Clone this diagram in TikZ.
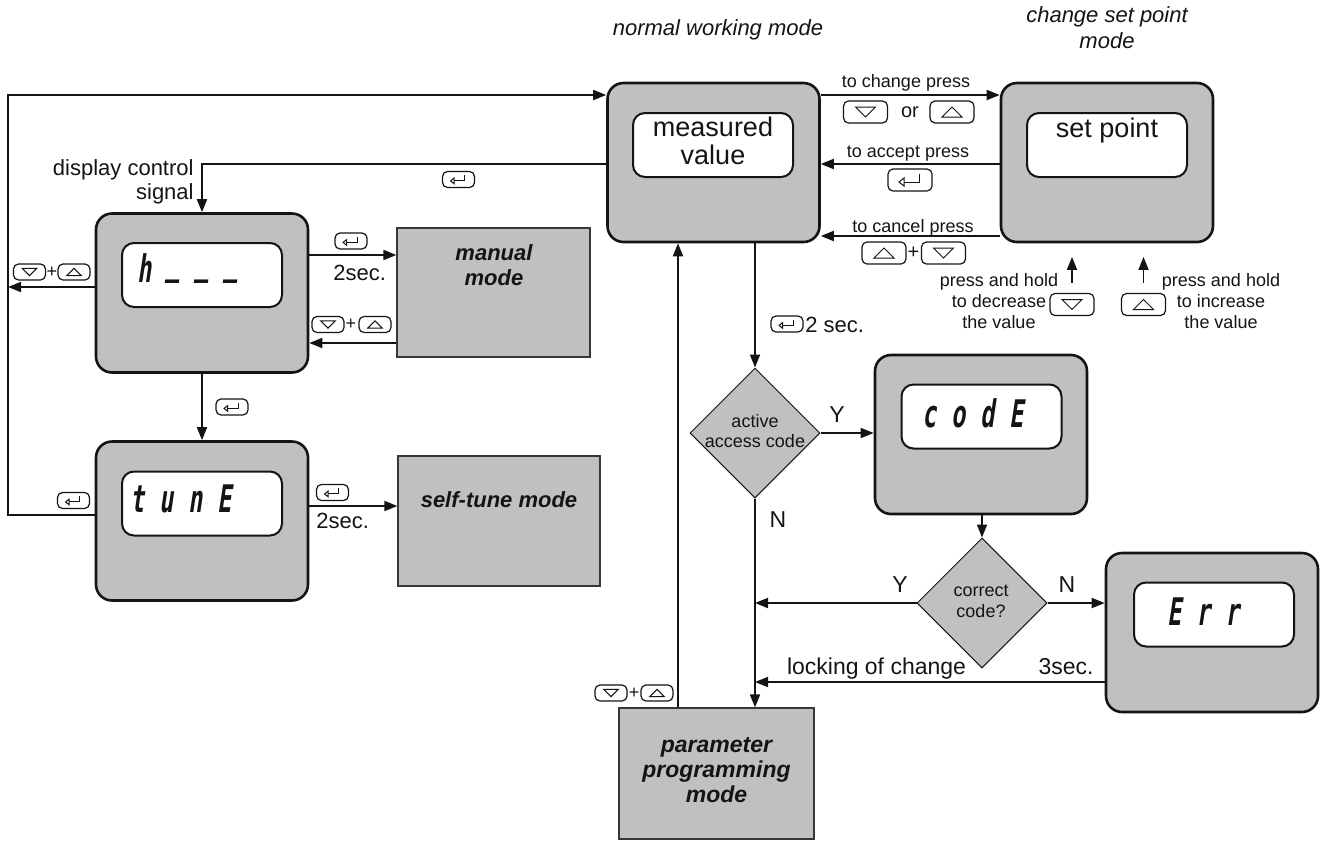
\documentclass[tikz,border=0pt]{standalone}
\usepackage{fontspec}
\setmainfont{Liberation Sans}
\newfontfamily\segfont[FakeSlant=0.15,FakeStretch=0.62]{DejaVu Sans Mono}
\usetikzlibrary{arrows.meta,shapes.geometric}
\definecolor{panel}{RGB}{192,192,192}
\definecolor{ink}{RGB}{20,20,20}
\newcommand\fsz[2]{\fontsize{#1}{#2}\selectfont}
\newcommand\segsp{\hspace{7.5pt}}
\newcommand\segdash{\raisebox{0.2em}{\_}}
\tikzset{
  txt/.style={inner sep=0pt, text=ink},
  dev/.style={draw=ink, line width=1.3pt, fill=panel, rounded corners=8pt, inner sep=0pt, minimum width=106pt, minimum height=79.5pt},
  screen/.style={draw=ink, line width=1pt, fill=white, rounded corners=6pt, inner sep=0pt, minimum width=80pt, minimum height=32pt},
  seg/.style={inner sep=0pt, text=ink, font=\segfont\bfseries\fsz{19pt}{19pt}},
  modebox/.style={draw=ink!85, line width=0.6pt, fill=panel, inner sep=0pt},
  decision/.style={diamond, draw=ink, line width=0.5pt, fill=panel, inner sep=0pt, minimum width=65pt, minimum height=65pt},
  flow/.style={draw=ink, line width=0.9pt, -{Triangle[length=6.5pt,width=5pt]}},
  keybase/.style={draw=ink, line width=0.6pt, rounded corners=2.5pt, fill=white, inner sep=0pt},
  keyL/.style={keybase, minimum width=22pt, minimum height=11pt},
  keyS/.style={keybase, minimum width=16pt, minimum height=8pt},
  glyph/.style={sharp corners, line width=0.5pt, line join=miter},
  dn/.style={path picture={\draw[glyph]
      ([shift={(-#1*5pt,#1*2.5pt)}]path picture bounding box.center) --
      ([shift={(#1*5pt,#1*2.5pt)}]path picture bounding box.center) --
      ([shift={(0pt,-#1*2.5pt)}]path picture bounding box.center) -- cycle;}},
  upk/.style={path picture={\draw[glyph]
      ([shift={(-#1*5pt,-#1*2.5pt)}]path picture bounding box.center) --
      ([shift={(#1*5pt,-#1*2.5pt)}]path picture bounding box.center) --
      ([shift={(0pt,#1*2.5pt)}]path picture bounding box.center) -- cycle;}},
  ent/.style={path picture={
      \draw[glyph]
      ([shift={(#1*4.5pt,#1*3pt)}]path picture bounding box.center) --
      ([shift={(#1*4.5pt,-#1*1pt)}]path picture bounding box.center) --
      ([shift={(-#1*3pt,-#1*1pt)}]path picture bounding box.center);
      \draw[glyph]
      ([shift={(-#1*3pt,#1*1pt)}]path picture bounding box.center) --
      ([shift={(-#1*5.5pt,-#1*1pt)}]path picture bounding box.center) --
      ([shift={(-#1*3pt,-#1*3pt)}]path picture bounding box.center) -- cycle;}},
}
\begin{document}
\begin{tikzpicture}[x=0.5pt, y=-0.5pt]
\useasboundingbox (0,0) rectangle (1322,842);

% titles
\node[txt, font=\itshape\fsz{11pt}{12.5pt}] (tnorm) at (718,30) {normal working mode};
\node[txt, font=\itshape\fsz{11pt}{13pt}, align=center] (tchg) at (1107,28) {change set point\\mode};

% devices
\node[dev] (meas) at (713.5,162.5) {};
\node[screen] (measS) at (713,145) {};
\node[txt, font=\fsz{13.5pt}{14pt}, align=center] (measT) at (713,141) {measured\\value};

\node[dev] (setp) at (1107,162.5) {};
\node[screen] (setpS) at (1107,145) {};
\node[txt, font=\fsz{13.5pt}{14pt}, anchor=base] (setpT) at (1107,137) {set point};

\node[dev] (hbox) at (202,293) {};
\node[screen] (hboxS) at (202,275) {};
\node[seg, anchor=base west] (hboxT) at (137,282) {h\segsp\segdash\segsp\segdash\segsp\segdash};

\node[dev] (tune) at (202,521) {};
\node[screen] (tuneS) at (202,503.5) {};
\node[seg, anchor=base west] (tuneT) at (130,512) {t\segsp u\segsp n\segsp E};

\node[dev] (code) at (981,434.5) {};
\node[screen] (codeS) at (981.5,416.5) {};
\node[seg, anchor=base west] (codeT) at (922,427) {c\segsp o\segsp d\segsp E};

\node[dev] (err) at (1212,632.5) {};
\node[screen] (errS) at (1214,614.5) {};
\node[seg, anchor=base west] (errT) at (1167,625) {E\segsp r\segsp r};

% mode boxes
\node[modebox, minimum width=96.5pt, minimum height=64.5pt] (manual) at (493.5,292.5) {};
\node[txt, font=\bfseries\itshape\fsz{11pt}{12.5pt}, align=center] (manualT) at (494,265.5) {manual\\mode};
\node[modebox, minimum width=101pt, minimum height=65pt] (self) at (499,521) {};
\node[txt, font=\bfseries\itshape\fsz{11pt}{12.5pt}, anchor=base] (selfT) at (499,507) {self-tune mode};
\node[modebox, minimum width=97.5pt, minimum height=65.5pt] (param) at (716.5,773.5) {};
\node[txt, font=\bfseries\itshape\fsz{11.5pt}{12.5pt}, align=center] (paramT) at (716.5,770.5) {parameter\\programming\\mode};

% decisions
\node[decision] (d1) at (755,433) {};
\node[txt, font=\fsz{9pt}{10pt}, align=center] (d1T) at (755,431) {active\\access code};
\node[decision] (d2) at (982,603) {};
\node[txt, font=\fsz{9pt}{10.5pt}, align=center] (d2T) at (981,601) {correct\\code?};

\node[txt, font=\fsz{11.5pt}{12pt}] (ly1) at (837,415) {Y};
\node[txt, font=\fsz{11.5pt}{12pt}] (ln1) at (778,520) {N};
\node[txt, font=\fsz{11.5pt}{12pt}] (ly2) at (900,585) {Y};
\node[txt, font=\fsz{11.5pt}{12pt}] (ln2) at (1067,585) {N};

% helper coordinates
\coordinate (L1) at (8,515);
\coordinate (L2) at (8,95);
\coordinate (A2) at (0,164);
\coordinate (A3) at (0,236);
\coordinate (S1) at (202,164);
\coordinate (H1) at (8,287);
\coordinate (H2) at (0,255);
\coordinate (H3) at (0,343);
\coordinate (T1) at (0,506);
\coordinate (M1) at (755,0);
\coordinate (E1) at (0,682);
\coordinate (P1) at (678,0);

% connectors
\draw[flow] (tune.west |- L1) -- (L1) -- (L2) -- (meas.west |- L2);
\draw[flow] (meas.east |- L2) -- (setp.west |- L2);
\draw[flow] (setp.west |- A2) -- (meas.east |- A2);
\draw[flow] (setp.west |- A3) -- (meas.east |- A3);
\draw[flow] (meas.west |- S1) -- (S1) -- (hbox.north);
\draw[flow] (hbox.west |- H1) -- (H1);
\draw[flow] (hbox.east |- H2) -- (manual.west |- H2);
\draw[flow] (manual.west |- H3) -- (hbox.east |- H3);
\draw[flow] (hbox.south) -- (tune.north);
\draw[flow] (tune.east |- T1) -- (self.west |- T1);
\draw[flow] (meas.south -| M1) -- (d1.north);
\draw[flow] (d1.east) -- (code.west |- d1.east);
\draw[flow] (d1.south) -- (param.north -| d1.south);
\draw[flow] (code.south -| d2.north) -- (d2.north);
\draw[flow] (d2.west) -- (d2.west -| M1);
\draw[flow] (d2.east) -- (err.west |- d2.east);
\draw[flow] (err.west |- E1) -- (M1 |- E1);
\draw[flow] (param.north -| P1) -- (meas.south -| P1);

% labels
\node[txt, font=\fsz{9pt}{10pt}, anchor=base] (lchg) at (906,87) {to change press};
\node[txt, font=\fsz{9pt}{10pt}, anchor=base] (lacc) at (908,157) {to accept press};
\node[txt, font=\fsz{9pt}{10pt}, anchor=base] (lcan) at (913,232) {to cancel press};
\node[txt, font=\fsz{11pt}{12pt}, align=right, anchor=east] (ldisp) at (194,182) {display control\\signal};
\node[txt, font=\fsz{11pt}{12pt}, anchor=base west] (l2s1) at (333,280) {2sec.};
\node[txt, font=\fsz{11pt}{12pt}, anchor=base west] (l2s2) at (316,528) {2sec.};
\node[txt, font=\fsz{11pt}{12pt}, anchor=base west] (l2s3) at (805,332) {2 sec.};
\node[txt, font=\fsz{11.5pt}{12pt}, anchor=base] (llock) at (876.5,674) {locking of change};
\node[txt, font=\fsz{11.5pt}{12pt}, anchor=base] (l3s) at (1066,674) {3sec.};
\node[txt, font=\fsz{9pt}{10.5pt}, align=center] (lhd) at (999,301.5) {press and hold\\to decrease\\the value};
\node[txt, font=\fsz{9pt}{10.5pt}, align=center] (lhi) at (1221,301.5) {press and hold\\to increase\\the value};

% keys (large)
\node[keyL, dn=1] (kc1) at (865.5,112) {};
\node[txt, font=\fsz{10pt}{11pt}] (tor) at (910,112) {or};
\node[keyL, upk=1] (kc2) at (952,112) {};
\node[keyL, ent=1] (ka) at (910,180) {};
\node[keyL, upk=1] (kx1) at (884,253) {};
\node[txt, font=\fsz{10pt}{11pt}] (px1) at (913.5,253) {+};
\node[keyL, dn=1] (kx2) at (943.5,253) {};
\node[keyL, dn=1] (ksd) at (1072,304.5) {};
\node[keyL, upk=1] (ksu) at (1143.5,304.5) {};
\draw[flow] ([yshift=5pt]ksd.north) -- ++(0,-26);
\draw[flow] ([yshift=5pt]ksu.north) -- ++(0,-26);

% keys (small)
\node[keyS, dn=.72] (kh1) at (29.5,272) {};
\node[txt, font=\fsz{9pt}{10pt}] (ph1) at (52,272) {+};
\node[keyS, upk=.72] (kh2) at (74,272) {};
\node[keyS, ent=.72] (kh3) at (351,241) {};
\node[keyS, dn=.72] (km1) at (328,324.5) {};
\node[txt, font=\fsz{9pt}{10pt}] (pm1) at (351,324.5) {+};
\node[keyS, upk=.72] (km2) at (375,324.5) {};
\node[keyS, ent=.72] (kt1) at (232,407) {};
\node[keyS, ent=.72] (kt2) at (73.5,500.5) {};
\node[keyS, ent=.72] (kt3) at (332.5,492.5) {};
\node[keyS, ent=.72] (kds) at (458.5,179.5) {};
\node[keyS, dn=.72] (kp1) at (611,693) {};
\node[txt, font=\fsz{9pt}{10pt}] (pp1) at (634,693) {+};
\node[keyS, upk=.72] (kp2) at (657,693) {};
\node[keyS, ent=.72] (k2s) at (787,324) {};
\end{tikzpicture}
\end{document}
